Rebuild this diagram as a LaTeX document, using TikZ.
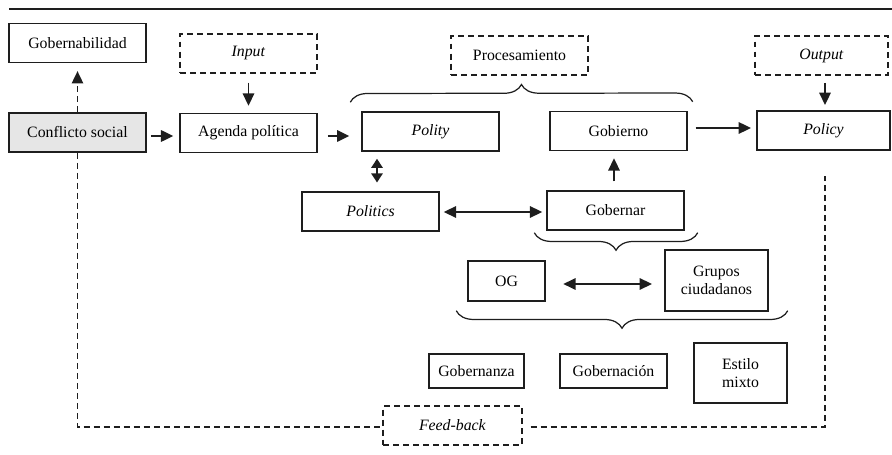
\documentclass[tikz,border=0pt]{standalone}
\usepackage{fontspec}
\setmainfont{Liberation Serif}
\usepackage{tikz}
\usetikzlibrary{arrows.meta,decorations.pathreplacing,calc}
\definecolor{boxgray}{RGB}{230,230,230}
\definecolor{inkgray}{RGB}{30,30,30}

\begin{document}
\begin{tikzpicture}[x=0.02cm, y=-0.02cm,
    font=\fontsize{9}{10.5}\selectfont,
    box/.style={draw=inkgray, line width=0.85pt, align=center, inner sep=1pt,
      minimum width=2.74cm, minimum height=0.78cm},
    dbox/.style={box, dash pattern=on 3.4pt off 2.3pt},
    link/.style={-{Triangle[length=7pt,width=6.5pt]}, line width=1.1pt, inkgray},
    dlink/.style={{Triangle[length=7pt,width=6.5pt]}-{Triangle[length=7pt,width=6.5pt]},
      line width=1.1pt, inkgray},
    slink/.style={{Triangle[length=5.2pt,width=6.5pt]}-{Triangle[length=5.2pt,width=6.5pt]},
      line width=1.1pt, inkgray},
    fb/.style={line width=0.85pt, inkgray, dash pattern=on 3.4pt off 2.3pt},
    brc/.style={decorate, decoration={brace, amplitude=0.35cm}, line width=0.7pt, inkgray}]
  \useasboundingbox (0,0) rectangle (892,455);
  % Top rule
  \draw[line width=0.7pt, inkgray] (9,9) -- (892,9);
  % Left column
  \node[box] (gobernab) at (77.5,43) {Gobernabilidad};
  \node[box, fill=boxgray] (conflicto) at (77.5,132.5) {Conflicto social};
  \node[dbox] (input) at (248.5,53.5) {\textit{Input}};
  \node[box] (agenda) at (248.5,133) {Agenda política};
  % Processing block
  \node[dbox] (proces) at (519.5,55.5) {Procesamiento};
  \node[box] (polity) at (430.5,131.5) {\textit{Polity}};
  \node[box] (gobierno) at (618.5,131) {Gobierno};
  \node[box] (politics) at (370.5,211.5) {\textit{Politics}};
  \node[box] (gobernar) at (615.5,210.5) {Gobernar};
  \node[box, minimum width=1.54cm, minimum height=0.8cm] (og) at (506.5,281) {OG};
  \node[box, minimum width=2.06cm, minimum height=1.22cm] (grupos) at (716.5,280.5)
    {Grupos\\ciudadanos};
  % Styles of governing
  \node[box, minimum width=1.9cm, minimum height=0.68cm] (gobernanza) at (476.5,371) {Gobernanza};
  \node[box, minimum width=2.14cm, minimum height=0.68cm] (gobernacion) at (613.5,371) {Gobernación};
  \node[box, minimum width=1.86cm, minimum height=1.2cm] (estilo) at (740.5,373) {Estilo\\mixto};
  % Output side
  \node[dbox, minimum width=2.66cm] (output) at (821.5,55.5) {\textit{Output}};
  \node[box, minimum width=2.66cm] (policy) at (823.5,130.5) {\textit{Policy}};
  \node[dbox, minimum width=2.78cm] (feedback) at (452.5,425.5) {\textit{Feed-back}};
  % Arrows
  \draw[link, fb, shorten >=4.5pt] (conflicto.north) -- (gobernab.south);
  \draw[link, shorten <=2.3pt, shorten >=3.4pt] (conflicto.east |- 0,136) -- (agenda.west |- 0,136);
  \draw[link, shorten <=5pt, shorten >=4pt] (input) -- (agenda);
  \draw[link, shorten <=5.7pt, shorten >=6.8pt] (agenda.east |- 0,136) -- (polity.west |- 0,136);
  \draw[link, shorten <=4.5pt, shorten >=3pt] (gobierno.east |- 0,128) -- (policy.west |- 0,128);
  \draw[link, shorten <=4pt, shorten >=3pt] (output.south -| 825,0) -- (policy.north -| 825,0);
  \draw[slink, shorten <=4pt, shorten >=5pt] (polity.south -| 377,0) -- (politics.north -| 377,0);
  \draw[dlink, shorten <=2.3pt, shorten >=2.3pt] (politics.east |- 0,212) -- (gobernar.west |- 0,212);
  \draw[link, shorten <=5pt, shorten >=4pt] (gobernar.north -| 614,0) -- (gobierno.south -| 614,0);
  \draw[dlink, shorten <=10pt, shorten >=7pt] (og.east |- 0,284) -- (grupos.west |- 0,284);
  % Braces
  \draw[brc] ($(polity.north west)+(-11,-9)$) -- ($(gobierno.north east)+(5,-9)$);
  \draw[brc] ($(gobernar.south east)+(13,2)$) -- ($(gobernar.south west)+(-12,2)$);
  \draw[brc] ($(grupos.south east)+(19,-1)$) -- ($(og.south west)+(-11,9)$);
  % Feed-back loop
  \draw[fb] (conflicto.south) -- (conflicto.south |- 0,427) -- (feedback.west |- 0,427);
  \draw[fb, shorten <=4.5pt] (feedback.east |- 0,427) -| ($(policy.south)+(1.5,25)$);
\end{tikzpicture}
\end{document}
